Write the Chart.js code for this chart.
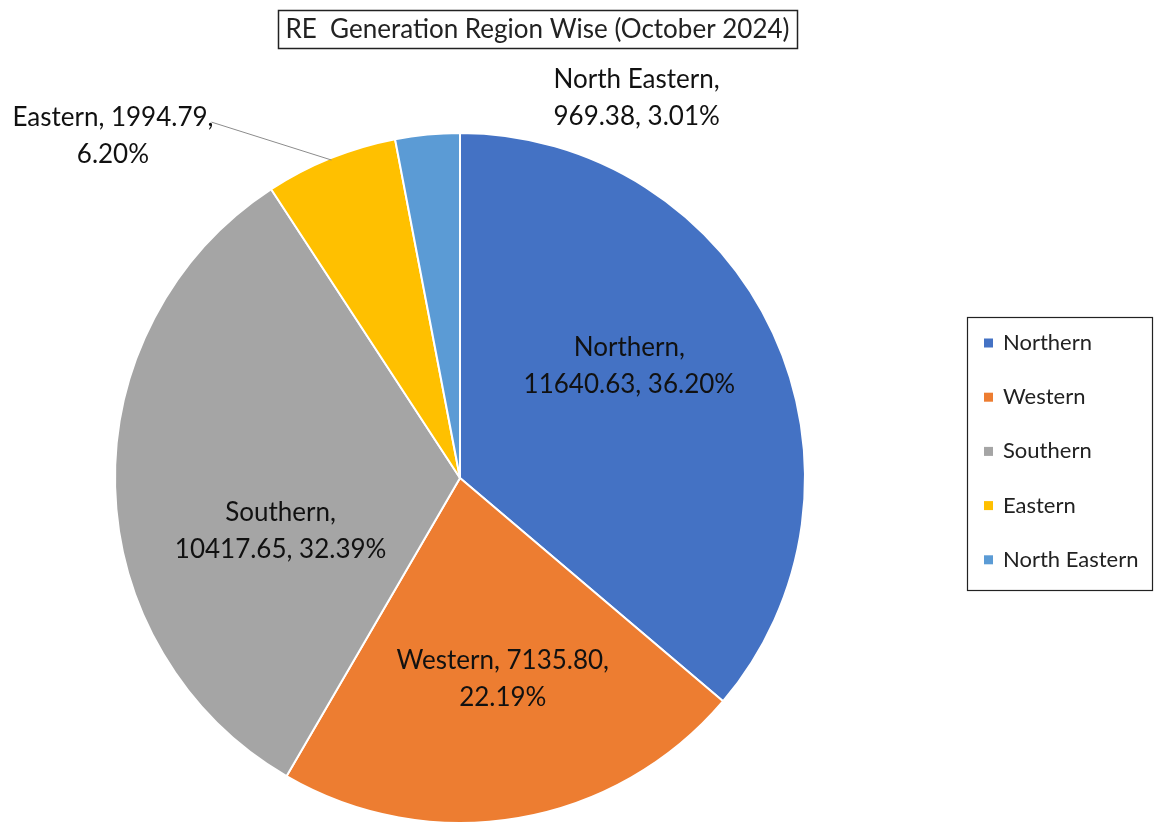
<!DOCTYPE html>
<html>
<head>
<meta charset="utf-8">
<script src="https://cdn.jsdelivr.net/npm/chart.js@4"></script>
<style>
  html, body { margin: 0; padding: 0; background: #fff; overflow: hidden; }
  #wrap { width: 1154px; height: 822px; overflow: hidden; }
</style>
</head>
<body>
<div id="wrap"><canvas id="pie" width="1154" height="830"></canvas></div>
<script>
const regions = ['Northern', 'Western', 'Southern', 'Eastern', 'North Eastern'];
const generation = [11640.63, 7135.80, 10417.65, 1994.79, 969.38];
const sliceColors = ['#4472C4', '#ED7D31', '#A5A5A5', '#FFC000', '#5B9BD5'];
const chartTitle = 'RE  Generation Region Wise (October 2024)';

// label anchor relative to the pie centre, in units of the radius
const labelSpots = [
    { dx: 0.491, dy: -0.324, split: 1 },
    { dx: 0.124, dy: 0.584, split: 2 },
    { dx: -0.520, dy: 0.153, split: 1 },
    { dx: -1.006, dy: -0.991, split: 2, leader: true },
    { dx: 0.512, dy: -1.101, split: 1 },
];

const FONT = 'Lato, "Open Sans", sans-serif';

const total = generation.reduce((a, b) => a + b, 0);

function labelLines(i) {
    const pct = (generation[i] / total * 100).toFixed(2) + '%';
    const val = generation[i].toFixed(2);
    if (labelSpots[i].split === 1) {
        return [regions[i] + ',', val + ', ' + pct];
    }
    return [regions[i] + ', ' + val + ',', pct];
}

const decorations = {
    id: 'decorations',
    afterDatasetsDraw(chart) {
        const c = chart.ctx;
        const arc0 = chart.getDatasetMeta(0).data[0];
        const cx = arc0.x, cy = arc0.y, r = arc0.outerRadius;

        // data labels
        c.save();
        c.fillStyle = '#111';
        c.textAlign = 'center';
        c.textBaseline = 'middle';
        c.font = '26px ' + FONT;
        labelSpots.forEach((spot, i) => {
            const x = cx + spot.dx * r;
            const y = cy + spot.dy * r;
            const lines = labelLines(i);
            c.fillText(lines[0], x, y - 18.5);
            c.fillText(lines[1], x, y + 18.5);
            if (spot.leader) {
                const arc = chart.getDatasetMeta(0).data[i];
                const mid = (arc.startAngle + arc.endAngle) / 2;
                const ex = cx + Math.cos(mid) * (r - 2);
                const ey = cy + Math.sin(mid) * (r - 2);
                const w = c.measureText(lines[0]).width;
                c.strokeStyle = '#8c8c8c';
                c.lineWidth = 1;
                c.beginPath();
                c.moveTo(x + w / 2 - 2, y - 14);
                c.lineTo(ex, ey);
                c.stroke();
            }
        });
        c.restore();

        // title in a box
        c.save();
        c.font = '26px ' + FONT;
        c.fillStyle = '#222';
        c.textAlign = 'center';
        c.textBaseline = 'middle';
        c.strokeStyle = '#222';
        c.lineWidth = 1.5;
        c.strokeRect(278.5, 10.5, 519, 38);
        c.fillText(chartTitle, 537.5, 30);
        c.restore();

        // legend box
        c.save();
        c.strokeStyle = '#222';
        c.lineWidth = 1.2;
        c.strokeRect(967.5, 317.5, 185, 273);
        c.font = '22px ' + FONT;
        c.textAlign = 'left';
        c.textBaseline = 'middle';
        regions.forEach((name, i) => {
            const y = 343 + i * 54.2;
            c.fillStyle = sliceColors[i];
            c.fillRect(984, y - 4.5, 9, 9);
            c.fillStyle = '#222';
            c.fillText(name, 1003, y);
        });
        c.restore();
    }
};

new Chart(document.getElementById('pie'), {
    type: 'pie',
    data: {
        labels: regions,
        datasets: [{
            data: generation,
            backgroundColor: sliceColors,
            borderColor: '#ffffff',
            borderWidth: 2,
        }],
    },
    options: {
        responsive: false,
        animation: false,
        layout: {
            padding: { left: 114, right: 348, top: 132, bottom: 6 }
        },
        plugins: {
            legend: { display: false },
            title: { display: false },
            tooltip: { enabled: false }
        }
    },
    plugins: [decorations]
});
</script>
</body>
</html>
